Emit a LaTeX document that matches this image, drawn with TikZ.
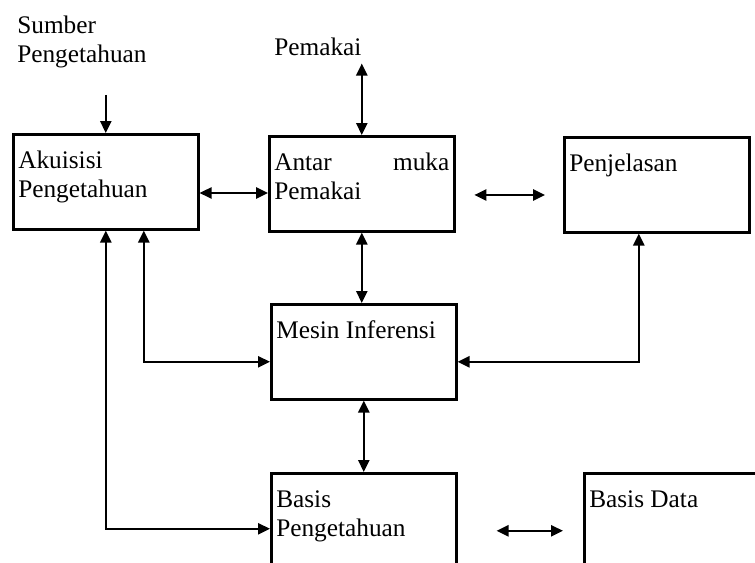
\documentclass[tikz,border=0pt]{standalone}
\usepackage{fontspec}
\setmainfont{Liberation Serif}
\usetikzlibrary{arrows.meta, positioning}

\newcommand{\isi}[1]{\parbox[c][2.375cm][t]{4.375cm}{\raggedright\rule{0pt}{0.85cm}#1}}

\tikzset{
  kotak/.style={draw, line width=1.8pt, inner sep=0pt, minimum width=4.625cm, minimum height=2.375cm, anchor=north west},
  panah/.style={line width=1.4pt, -{Triangle[length=0.3cm,width=0.28cm]}},
  dua/.style={line width=1.4pt, {Triangle[length=0.3cm,width=0.28cm]}-{Triangle[length=0.3cm,width=0.28cm]}},
}

\begin{document}
\begin{tikzpicture}[x=0.025cm, y=-0.025cm, font=\fontsize{18}{20.6}\selectfont]
            \useasboundingbox (0,0) rectangle (755,562);
            % teks luar
            \node[anchor=north west, align=left, inner sep=0pt] (sumber) at (17,16) {Sumber\\Pengetahuan};
            \node[anchor=base west, inner sep=0pt] (pemakai) at (274,55) {Pemakai};
            % kotak
            \node[kotak] (akuisisi) at (12,133) {\isi{Akuisisi\\Pengetahuan}};
            \node[kotak] (antar) at (268,135) {\isi{Antar\hfill muka\\Pemakai}};
            \node[kotak] (penjelasan) at (563,136) {\isi{Penjelasan}};
            \node[kotak] (mesin) at (270,303) {\isi{Mesin Inferensi}};
            \node[kotak] (basis) at (270,472) {\isi{Basis\\Pengetahuan}};
            \node[kotak] (basisdata) at (583,472) {\isi{Basis Data}};
            \coordinate[above=0.95cm of akuisisi.north] (sumberujung);
            % panah
            \draw[panah] (sumberujung) -- (akuisisi.north);
            \draw[dua] ([yshift=-0.2cm]pemakai.south -| antar.north) -- (antar.north);
            \draw[dua] ([yshift=-0.28cm]akuisisi.east) -- ([yshift=-0.28cm]akuisisi.east -| antar.west);
            \draw[dua, shorten <=0.47cm, shorten >=0.45cm] ([yshift=-0.28cm]antar.east) -- ([yshift=-0.28cm]antar.east -| penjelasan.west);
            \draw[dua] (antar.south) -- (antar.south |- mesin.north);
            \draw[dua] (mesin.south) -- (basis.north);
            \draw[dua] ([xshift=0.95cm]akuisisi.south) |- ([yshift=-0.25cm]mesin.west);
            \draw[dua] ([xshift=-0.45cm]penjelasan.south) |- ([yshift=-0.25cm]mesin.east);
            \draw[dua] (akuisisi.south) |- ([yshift=-0.2cm]basis.west);
            \draw[dua, shorten <=0.975cm, shorten >=0.5cm] ([yshift=-0.25cm]basis.east) -- ([yshift=-0.25cm]basis.east -| basisdata.west);
        \end{tikzpicture}
\end{document}
